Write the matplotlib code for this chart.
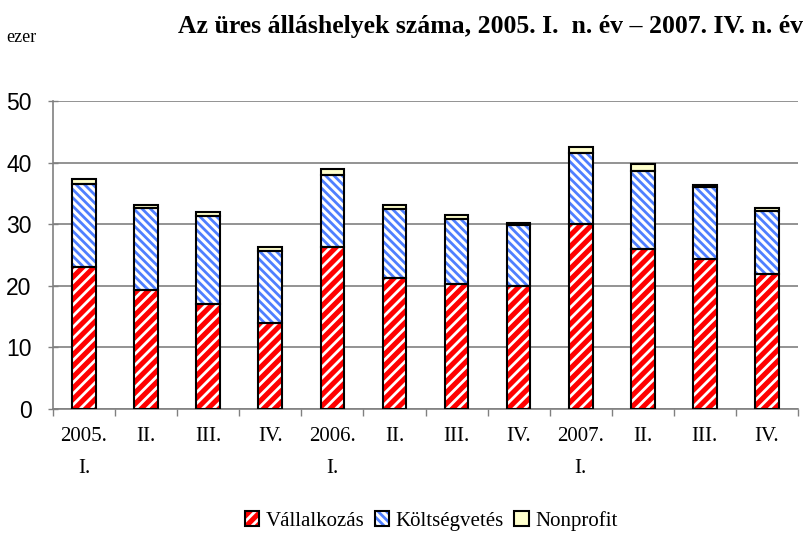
import matplotlib
matplotlib.use("Agg")
import matplotlib.pyplot as plt
from matplotlib.patches import Patch
import numpy as np

plt.rcParams['hatch.linewidth'] = 2.0

categories = ["2005.\nI.", "II.", "III.", "IV.", "2006.\nI.", "II.", "III.", "IV.",
              "2007.\nI.", "II.", "III.", "IV."]
vallalkozas = [23.0, 19.35, 17.1, 13.9, 26.3, 21.3, 20.3, 20.0, 30.1, 26.0, 24.4, 21.9]
koltsegvetes = [13.6, 13.35, 14.3, 11.7, 11.7, 11.1, 10.5, 9.8, 11.5, 12.7, 11.6, 10.3]
nonprofit = [0.8, 0.4, 0.5, 0.7, 1.0, 0.7, 0.7, 0.4, 1.0, 1.0, 0.4, 0.5]
series_names = ["Vállalkozás", "Költségvetés", "Nonprofit"]
yticks = [0, 10, 20, 30, 40, 50]

serif = "Liberation Serif"
sans = "Liberation Sans"

fig = plt.figure(figsize=(8.07, 5.42), dpi=100)
ax = fig.add_axes([53/807, 1-409/542, (798-53)/807, (409-101)/542])

x = np.arange(len(categories))
w = 0.38
styles = [
    dict(face="#ff0000", hatchc="white", hatch="///"),
    dict(face="white", hatchc="#4f7fff", hatch="\\\\\\\\"),
    dict(face="#ffffcc", hatchc=None, hatch=None),
]
bottom = np.zeros(len(categories))
handles = []
for vals, st, name in zip([vallalkozas, koltsegvetes, nonprofit], styles, series_names):
    vals = np.array(vals)
    if st["hatch"]:
        ax.bar(x, vals, w, bottom=bottom, color=st["face"], edgecolor=st["hatchc"],
               hatch=st["hatch"], linewidth=0, zorder=3)
    else:
        ax.bar(x, vals, w, bottom=bottom, color=st["face"], linewidth=0, zorder=3)
    ax.bar(x, vals, w, bottom=bottom, fill=False, edgecolor="black", linewidth=1.5, zorder=4)
    bottom += vals
    if st["hatch"]:
        h1 = Patch(facecolor=st["face"], edgecolor=st["hatchc"], hatch=st["hatch"], linewidth=0)
    else:
        h1 = Patch(facecolor=st["face"], linewidth=0)
    h2 = Patch(fill=False, edgecolor="black", linewidth=1.5)
    handles.append((h1, h2))

ax.set_xlim(-0.5, len(categories) - 0.5)
ax.set_ylim(0, 50)
ax.set_yticks(yticks)
ax.set_yticklabels([str(t) for t in yticks], fontfamily=sans, fontsize=16.5)
ax.tick_params(axis='y', direction='inout', length=7, width=1, color="#808080", pad=12)
ax.set_xticks(x)
ax.set_xticklabels(categories, fontfamily=serif, fontsize=15, linespacing=1.95)
ax.set_xticks(np.arange(-0.5, len(categories)), minor=True)
ax.tick_params(axis='x', which='major', length=0, pad=13)
ax.tick_params(axis='x', which='minor', direction='out', length=5, width=1, color="#808080")
ax.grid(axis='y', color="#808080", linewidth=1.2, zorder=0)
ax.set_axisbelow(True)
for s in ["top", "right"]:
    ax.spines[s].set_visible(False)
for s in ["left", "bottom"]:
    ax.spines[s].set_color("#808080")
    ax.spines[s].set_linewidth(1.2)

fig.text(178/807, 1-27/542, "Az üres álláshelyek száma, 2005. I.  n. év – 2007. IV. n. év",
         fontfamily=serif, fontweight="bold", fontsize=18.5, ha="left", va="center")
fig.text(6/807, 1-38/542, "ezer", fontfamily=serif, fontsize=13, ha="left", va="center")

fig.legend(handles, series_names, loc="center", bbox_to_anchor=(431/807, 1-521/542),
           ncol=3, frameon=False, prop={"family": serif, "size": 15},
           handlelength=0.7, handleheight=0.7, handletextpad=0.3, columnspacing=0.5)

fig.savefig("out.png", dpi=100)
